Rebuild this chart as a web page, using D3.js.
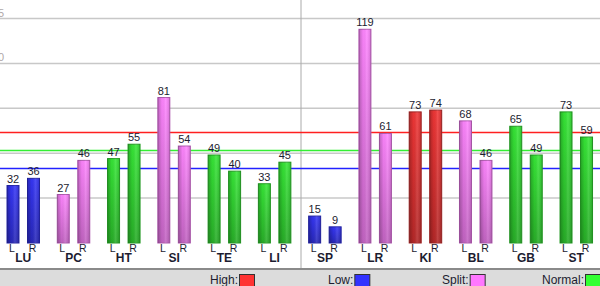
<!DOCTYPE html>
<html>
<head>
<meta charset="utf-8">
<script src="https://cdn.jsdelivr.net/npm/d3@7"></script>
<style>
  body { margin: 0; background: #fff; }
  svg { display: block; font-family: "Liberation Sans", Arial, sans-serif; }
</style>
</head>
<body>
<div id="main-frame"></div>
<script>
// data
var groups = ["LU", "PC", "HT", "SI", "TE", "LI", "SP", "LR", "KI", "BL", "GB", "ST"];
var leftVals = [32, 27, 47, 81, 49, 33, 15, 119, 73, 68, 65, 73];
var rightVals = [36, 46, 55, 54, 40, 45, 9, 61, 74, 46, 49, 59];
var groupStatus = ["low", "split", "normal", "split", "normal", "normal", "low", "split", "high", "split", "normal", "normal"];
var sides = ["L", "R"];
var gridValues = [25, 50, 75, 100, 125];
var axisLabels = [100, 125];
var refNames = ["high", "normal", "low"];
var refValues = [61.5, 51.5, 41.5];
var legendNames = ["High:", "Low:", "Split:", "Normal:"];
var legendKeys = ["high", "low", "split", "normal"];

var width = 600, height = 286;

var barColor = { high: "#e03232", low: "#3232e6", split: "#f27cf2", normal: "#32d732" };
var lineColor = { high: "#ff2020", normal: "#33ee33", low: "#2222ff" };
var boxColor = { high: "#ff3333", low: "#3333ff", split: "#ff77ff", normal: "#33ff33" };

var svg = d3.select("#main-frame").append("svg")
  .attr("width", width)
  .attr("height", height);

var x = d3.scaleBand().domain(groups).range([0, 603.3]);
var xSide = d3.scalePoint().domain(sides).range([13, 33.5]);
var y = d3.scaleLinear().domain([0, 125]).range([243, 18.5]);
var barW = 12;

// gradients
var defs = svg.append("defs");
Object.keys(barColor).forEach(function(k) {
  var c = d3.color(barColor[k]);
  var g = defs.append("linearGradient").attr("id", "v-" + k)
    .attr("x1", 0).attr("y1", 0).attr("x2", 0).attr("y2", 1);
  g.append("stop").attr("offset", "0%").attr("stop-color", c.brighter(0.2));
  g.append("stop").attr("offset", "100%").attr("stop-color", c.darker(0.6));
});
var hg = defs.append("linearGradient").attr("id", "shine")
  .attr("x1", 0).attr("y1", 0).attr("x2", 1).attr("y2", 0);
hg.append("stop").attr("offset", "0%").attr("stop-color", "#000").attr("stop-opacity", 0.25);
hg.append("stop").attr("offset", "35%").attr("stop-color", "#000").attr("stop-opacity", 0.03);
hg.append("stop").attr("offset", "65%").attr("stop-color", "#fff").attr("stop-opacity", 0.12);
hg.append("stop").attr("offset", "100%").attr("stop-color", "#000").attr("stop-opacity", 0.15);

// grid lines
svg.selectAll("line.grid").data(gridValues).enter().append("line")
  .attr("class", "grid")
  .attr("x1", 0).attr("x2", width)
  .attr("y1", function(d) { return y(d); })
  .attr("y2", function(d) { return y(d); })
  .style("stroke", "#c8c8c8")
  .style("stroke-width", 1.5);

svg.selectAll("text.ylab").data(axisLabels).enter().append("text")
  .attr("class", "ylab")
  .attr("x", 4)
  .attr("y", function(d) { return y(d) - 2; })
  .attr("text-anchor", "end")
  .style("font-size", "11px")
  .style("fill", "#b0a8a8")
  .text(function(d) { return d; });

// middle divider
svg.append("line")
  .attr("x1", 301).attr("x2", 301)
  .attr("y1", 0).attr("y2", 269)
  .style("stroke", "#aaa")
  .style("stroke-width", 1);

// reference lines
svg.selectAll("line.ref").data(refValues).enter().append("line")
  .attr("class", "ref")
  .attr("x1", 0).attr("x2", width)
  .attr("y1", function(d) { return y(d); })
  .attr("y2", function(d) { return y(d); })
  .style("stroke", function(d, i) { return lineColor[refNames[i]]; })
  .style("stroke-width", 1.5);

// bars
var bars = [];
groups.forEach(function(g, i) {
  bars.push({ group: g, side: "L", value: leftVals[i], status: groupStatus[i] });
  bars.push({ group: g, side: "R", value: rightVals[i], status: groupStatus[i] });
});

function barX(d) { return x(d.group) + xSide(d.side) - barW / 2; }

svg.selectAll("rect.bar").data(bars).enter().append("rect")
  .attr("class", "bar")
  .attr("x", barX)
  .attr("y", function(d) { return y(d.value); })
  .attr("width", barW)
  .attr("height", function(d) { return y(0) - y(d.value); })
  .style("fill", function(d) { return "url(#v-" + d.status + ")"; })
  .style("stroke", function(d) { return d3.color(barColor[d.status]).darker(0.9); })
  .style("stroke-width", 1);

svg.selectAll("rect.shine").data(bars).enter().append("rect")
  .attr("class", "shine")
  .attr("x", barX)
  .attr("y", function(d) { return y(d.value); })
  .attr("width", barW)
  .attr("height", function(d) { return y(0) - y(d.value); })
  .style("fill", "url(#shine)");

// value labels
svg.selectAll("text.val").data(bars).enter().append("text")
  .attr("class", "val")
  .attr("x", function(d) { return x(d.group) + xSide(d.side); })
  .attr("y", function(d) { return y(d.value) - 3; })
  .attr("text-anchor", "middle")
  .style("font-size", "11px")
  .style("fill", "#1c1c30")
  .text(function(d) { return d.value; });

// L / R labels
svg.selectAll("text.side").data(bars).enter().append("text")
  .attr("class", "side")
  .attr("x", function(d) { return x(d.group) + xSide(d.side) - 1; })
  .attr("y", 251.5)
  .attr("text-anchor", "middle")
  .style("font-size", "10.5px")
  .style("fill", "#1c1c30")
  .text(function(d) { return d.side; });

// group labels
svg.selectAll("text.grp").data(groups).enter().append("text")
  .attr("class", "grp")
  .attr("x", function(d) { return x(d) + (xSide("L") + xSide("R")) / 2; })
  .attr("y", 262)
  .attr("text-anchor", "middle")
  .style("font-size", "12px")
  .style("font-weight", "bold")
  .style("fill", "#1c1c30")
  .text(function(d) { return d; });

// legend band
svg.append("rect")
  .attr("x", 0).attr("y", 270)
  .attr("width", width).attr("height", height - 270)
  .style("fill", "#dcdcdc");
svg.append("line")
  .attr("x1", 0).attr("x2", width)
  .attr("y1", 269).attr("y2", 269)
  .style("stroke", "#8a8a8a")
  .style("stroke-width", 2);

var legendX = d3.scalePoint().domain(legendKeys).range([239, 585]);

var leg = svg.selectAll("g.leg").data(legendKeys).enter().append("g")
  .attr("class", "leg")
  .attr("transform", function(d) { return "translate(" + legendX(d) + ",0)"; });
leg.append("text")
  .attr("x", -1)
  .attr("y", 284)
  .attr("text-anchor", "end")
  .style("font-size", "12px")
  .style("fill", "#1c1c30")
  .text(function(d, i) { return legendNames[i]; });
leg.append("rect")
  .attr("x", 0.5).attr("y", 274.5)
  .attr("width", 15).attr("height", 14)
  .style("fill", function(d) { return boxColor[d]; })
  .style("stroke", "#333")
  .style("stroke-width", 1);
</script>
</body>
</html>
